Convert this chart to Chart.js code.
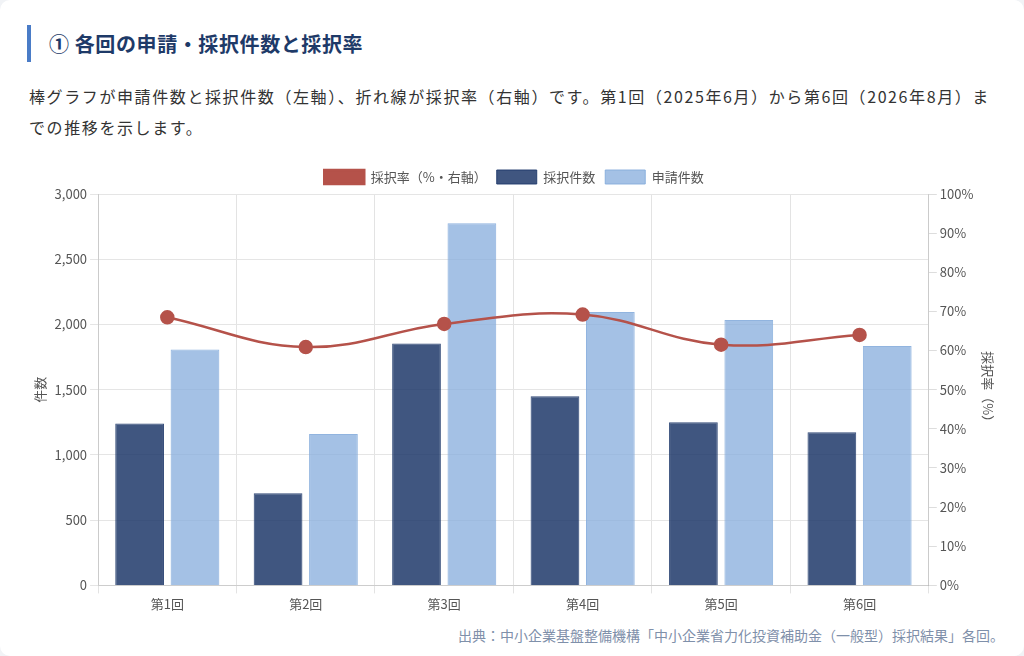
<!DOCTYPE html>
<html lang="ja">
<head>
<meta charset="utf-8">
<script src="https://cdn.jsdelivr.net/npm/chart.js@4"></script>
<style>
  html, body { margin: 0; padding: 0; background: #f1f3f6; }
  body { width: 1024px; height: 656px; overflow: hidden; font-family: "Noto Sans CJK JP", "Noto Sans", sans-serif; }
  .card { position: absolute; left: 0; top: 0; width: 1024px; height: 656px; background: #fff; border-radius: 10px; }
  h2 { position: absolute; left: 27px; top: 25px; margin: 0; padding-left: 18px; border-left: 4px solid #4a7cc7;
       font-size: 20px; letter-spacing: 0.6px; font-weight: 700; color: #1e3a68; line-height: 37px; height: 37px; }
  .desc { position: absolute; left: 29px; top: 81px; width: 990px; margin: 0; font-size: 16px; letter-spacing: 1.6px; line-height: 31px; color: #333; }
  .wrap { position: absolute; left: 24px; top: 160px; width: 980px; height: 455px; }
  .src { position: absolute; right: 20px; top: 625px; font-size: 14px; color: #7f90aa; }
</style>
</head>
<body>
<div class="card">
  <h2>① 各回の申請・採択件数と採択率</h2>
  <p class="desc">棒グラフが申請件数と採択件数（左軸）、折れ線が採択率（右軸）です。第1回（2025年6月）から第6回（2026年8月）ま<br>での推移を示します。</p>
  <div class="wrap"><canvas id="rounds"></canvas></div>
  <div class="src">出典：中小企業基盤整備機構「中小企業省力化投資補助金（一般型）採択結果」各回。</div>
</div>
<script>
const labels = ['第1回', '第2回', '第3回', '第4回', '第5回', '第6回'];
const saitaku = [1240, 707, 1854, 1450, 1251, 1174];
const shinsei = [1809, 1160, 2775, 2095, 2034, 1834];
const rate = [68.5, 60.9, 66.8, 69.2, 61.5, 64.0];

const font = { family: '"Noto Sans CJK JP", "Noto Sans", sans-serif', size: 13 };

new Chart(document.getElementById('rounds'), {
    type: 'bar',
    data: {
        labels: labels,
        datasets: [{
            type: 'line',
            label: '採択率（%・右軸）',
            data: rate,
            yAxisID: 'y1',
            borderColor: '#b5524a',
            backgroundColor: '#b5524a',
            borderWidth: 2.5,
            pointRadius: 6,
            pointBackgroundColor: '#b5524a',
            tension: 0.4,
            order: 0
        }, {
            label: '採択件数',
            data: saitaku,
            backgroundColor: 'rgba(30, 56, 106, 0.85)',
            borderColor: 'rgba(30, 56, 106, 0.9)',
            borderWidth: 1,
            categoryPercentage: 0.8,
            barPercentage: 0.88,
            order: 1
        }, {
            label: '申請件数',
            data: shinsei,
            backgroundColor: 'rgba(133, 172, 220, 0.75)',
            borderColor: 'rgba(133, 172, 220, 0.9)',
            borderWidth: 1,
            categoryPercentage: 0.8,
            barPercentage: 0.88,
            order: 2
        }]
    },
    options: {
        responsive: true,
        maintainAspectRatio: false,
        animation: false,
        layout: { padding: { left: 4, right: 4 } },
        plugins: {
            legend: {
                position: 'top',
                labels: { font: font, color: '#555', boxWidth: 40, boxHeight: 14 }
            },
            tooltip: { enabled: false }
        },
        scales: {
            x: {
                ticks: { font: font, color: '#555' },
                grid: { color: '#e3e3e3', offset: true }
            },
            y: {
                position: 'left',
                min: 0,
                max: 3000,
                ticks: { stepSize: 500, font: font, color: '#555',
                         callback: v => v.toLocaleString('en-US') },
                grid: { color: '#e5e5e5' },
                title: { display: true, text: '件数', font: font, color: '#555' }
            },
            y1: {
                position: 'right',
                min: 0,
                max: 100,
                ticks: { stepSize: 10, font: font, color: '#555', callback: v => v + '%' },
                grid: { drawOnChartArea: false, color: '#ddd' },
                title: { display: true, text: '採択率（%）', font: font, color: '#555' }
            }
        }
    }
});
</script>
</body>
</html>
